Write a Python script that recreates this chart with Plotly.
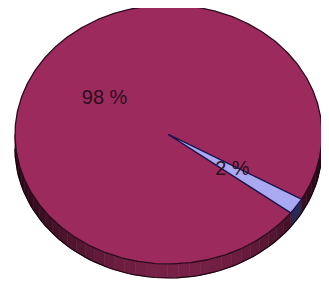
import numpy as np
import plotly.graph_objects as go

# ---- data ----
labels = ["2 %", "98 %"]
values = [2, 98]
top_colors = ["#a9a9f2", "#9c2a5c"]
side_dark = ["#1c1c40", "#2a0818"]
side_light = ["#4a4a80", "#7a2249"]
start_deg = 30.0  # screen angle (clockwise from 3 o'clock) where first slice begins

# ---- geometry (pixel-space axes) ----
W, H = 329, 289
PAD = 8  # default page body margin
cx, cy = 168.5, 134.5
a, b = 153.5, 129.5
depth = 14.0

fig = go.Figure()

total = float(sum(values))
bounds = []
t = start_deg
for v in values:
    bounds.append((t, t + 360.0 * v / total))
    t += 360.0 * v / total


def ell(theta_deg, dy=0.0, r=1.0):
    th = np.radians(theta_deg)
    return cx + r * a * np.cos(th), cy + r * b * np.sin(th) + dy


def lerp_col(c1, c2, f):
    c1 = [int(c1[i:i + 2], 16) for i in (1, 3, 5)]
    c2 = [int(c2[i:i + 2], 16) for i in (1, 3, 5)]
    c = [round(c1[k] + (c2[k] - c1[k]) * f) for k in range(3)]
    return "rgb(%d,%d,%d)" % tuple(c)


# side walls (visible front half: screen angles 0..180)
for i, (t0, t1) in enumerate(bounds):
    for off in (0.0, 360.0, -360.0):
        s0 = max(t0 + off, 0.0)
        s1 = min(t1 + off, 180.0)
        if s1 <= s0:
            continue
        nseg = max(1, int((s1 - s0) / 4))
        edges = np.linspace(s0, s1, nseg + 1)
        for k in range(nseg):
            th = np.linspace(edges[k], edges[k + 1], 6)
            xt, yt = ell(th)
            xb, yb = ell(th[::-1], depth)
            mid = np.radians((edges[k] + edges[k + 1]) / 2)
            f = max(0.0, np.sin(mid)) ** 2 * (0.6 + 0.4 * np.cos(mid - np.radians(70)))
            f = min(1.0, max(0.0, f))
            col = lerp_col(side_dark[i], side_light[i], f)
            fig.add_trace(go.Scatter(
                x=np.concatenate([xt, xb, xt[:1]]),
                y=np.concatenate([yt, yb, yt[:1]]),
                mode="lines", fill="toself", fillcolor=col,
                line=dict(color=col, width=0.6),
                hoverinfo="skip", showlegend=False))

# outline of side bottom
th = np.linspace(0, 180, 90)
xb, yb = ell(th, depth)
fig.add_trace(go.Scatter(x=xb, y=yb, mode="lines",
                         line=dict(color="#1a0510", width=1.2),
                         hoverinfo="skip", showlegend=False))

# top faces (big slice first, then small)
order = sorted(range(len(values)), key=lambda j: -values[j])
for i in order:
    t0, t1 = bounds[i]
    th = np.linspace(t0, t1, max(3, int((t1 - t0) * 2)))
    xs, ys = ell(th)
    x = np.concatenate([[cx], xs, [cx]])
    y = np.concatenate([[cy], ys, [cy]])
    edge = "#1a1450" if values[i] < 50 else "#2a0a1c"
    fig.add_trace(go.Scatter(
        x=x, y=y, mode="lines", fill="toself", fillcolor=top_colors[i],
        line=dict(color=edge, width=1.3),
        hoverinfo="skip", showlegend=False))

# labels
for i, (t0, t1) in enumerate(bounds):
    mx, my = ell((t0 + t1) / 2, r=0.5)
    fig.add_trace(go.Scatter(
        x=[mx], y=[my], mode="text", text=[labels[i]],
        textfont=dict(family="Liberation Sans, Arial", size=20, color="#2a0f20"),
        hoverinfo="skip", showlegend=False))

fig.update_layout(
    width=W - PAD, height=H - PAD, margin=dict(l=0, r=0, t=0, b=0),
    paper_bgcolor="white", plot_bgcolor="white",
    xaxis=dict(range=[PAD, W], visible=False, fixedrange=True),
    yaxis=dict(range=[H, PAD], visible=False, fixedrange=True),
    showlegend=False,
)
fig.write_html("out.html")
